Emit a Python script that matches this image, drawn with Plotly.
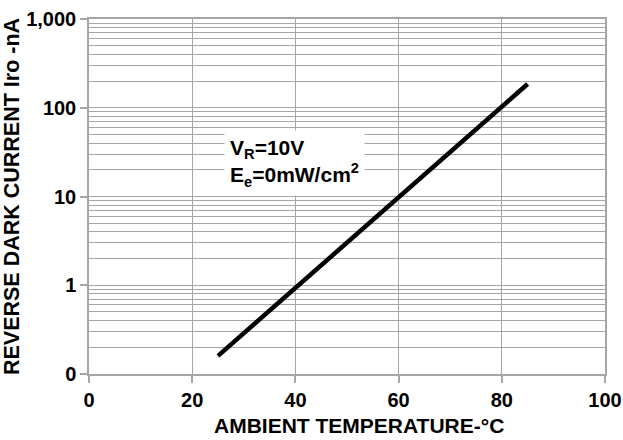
import plotly.graph_objects as go

temperature_c = [25, 85]
dark_current_na = [0.16, 185]

x_ticks = [0, 20, 40, 60, 80, 100]
y_tickvals = [0.1, 1, 10, 100, 1000]
y_ticktext = ["0", "1", "10", "100", "1,000"]
y_minor_vals = [m * d for d in [0.1, 1, 10, 100] for m in range(2, 10)]

FONT = "Arial, Liberation Sans, sans-serif"
GRID = "#a6a6a6"

fig = go.Figure()
fig.add_trace(go.Scatter(
    x=temperature_c, y=dark_current_na, mode="lines",
    line=dict(color="black", width=4.5), showlegend=False,
))

fig.update_layout(
    width=623, height=440,
    margin=dict(l=89, r=18, t=19, b=66),
    paper_bgcolor="white", plot_bgcolor="white",
    font=dict(family=FONT, color="black"),
)

fig.update_xaxes(
    range=[0, 100], tickvals=x_ticks,
    showgrid=True, gridcolor=GRID, gridwidth=1,
    showline=True, linecolor=GRID, linewidth=1.5, mirror=True,
    ticks="outside", ticklen=7, tickcolor=GRID, tickwidth=1.5,
    tickfont=dict(family=FONT, size=20, weight="bold", color="black"),
    zeroline=False, automargin=False,
)

fig.update_yaxes(
    type="log", range=[-1, 3],
    tickvals=y_tickvals, ticktext=y_ticktext,
    showgrid=True, gridcolor=GRID, gridwidth=1,
    minor=dict(tickvals=y_minor_vals, showgrid=True, gridcolor=GRID,
               gridwidth=1, ticks=""),
    showline=True, linecolor=GRID, linewidth=1.5, mirror=True,
    ticks="outside", ticklen=7, tickcolor=GRID, tickwidth=1.5,
    tickfont=dict(family=FONT, size=20, weight="bold", color="black"),
    title=dict(text="REVERSE DARK CURRENT Iro -nA", standoff=3,
               font=dict(family=FONT, size=21.5, weight="bold", color="black")),
    zeroline=False, automargin=False,
)

# x-axis title (slightly right of centre, as in the reference)
fig.add_annotation(
    xref="paper", yref="paper",
    x=(359 - 89) / 516, y=-(425 - 374) / 355,
    xanchor="center", yanchor="middle",
    text="AMBIENT TEMPERATURE-°C", showarrow=False,
    font=dict(family=FONT, size=21, weight="bold", color="black"),
)

fig.add_annotation(
    xref="paper", yref="paper",
    x=(294 - 89) / 516, y=(374 - 163) / 355,
    xanchor="center", yanchor="middle",
    text="V<sub>R</sub>=10V<br>E<sub>e</sub>=0mW/cm<sup>2</sup>",
    align="left", showarrow=False,
    font=dict(family=FONT, size=21, weight="bold", color="black"),
    bgcolor="white", borderpad=5,
)

fig.write_html("out.html", config={"displayModeBar": False},
               post_script="document.body.style.margin='0';document.body.style.overflow='hidden';")
